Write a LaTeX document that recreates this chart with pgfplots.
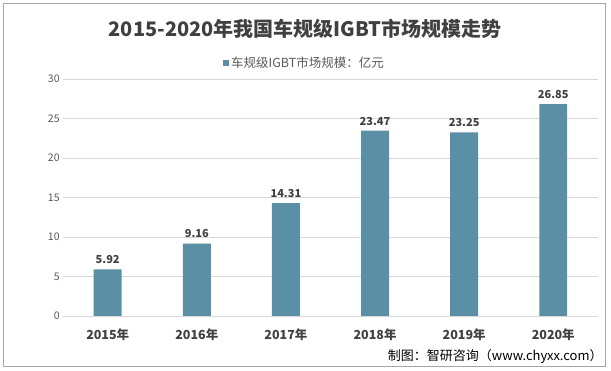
\documentclass[border=0pt]{standalone}
\usepackage{pgfplots}
\pgfplotsset{compat=1.18}
\usepackage{fontspec}
\setmainfont{Noto Sans CJK SC}
\definecolor{barc}{RGB}{91,143,166}
\definecolor{txt}{RGB}{64,64,64}
\definecolor{tick}{RGB}{89,89,89}
\definecolor{gridc}{RGB}{217,217,217}
\begin{document}
\begin{tikzpicture}[x=1pt,y=1pt]
\draw[fill=white,draw=white] (0,0) rectangle (611,370);
\draw[color=black!35,line width=0.8pt] (3,4) rectangle (606,367);
\node[font=\fontsize{20}{24}\selectfont\bfseries,text=txt,anchor=center,inner sep=0pt] at (305,341) {2015-2020年我国车规级IGBT市场规模走势};
\fill[barc] (223,304) rectangle (229,310);
\node[font=\fontsize{12.5}{14}\selectfont,text=tick,anchor=west,inner sep=0pt] at (231,307) {车规级IGBT市场规模：亿元};
\node[font=\fontsize{13}{15}\selectfont,text=black,anchor=east,inner sep=0pt] at (603,14) {制图：智研咨询（www.chyxx.com）};
\begin{axis}[
  at={(63pt,54pt)}, anchor=south west,
  scale only axis, width=535pt, height=237pt,
  xmin=-0.5, xmax=5.5, ymin=0, ymax=30,
  ytick={0,5,...,30},
  xtick=data,
  xticklabels={2015年,2016年,2017年,2018年,2019年,2020年},
  axis line style={draw=none},
  axis x line*=bottom,
  x axis line style={draw=gridc},
  ymajorgrids, grid style={gridc, line width=0.6pt},
  major tick length=0pt,
  tick style={draw=none},
  yticklabel style={font=\fontsize{10.5}{12}\selectfont, text=tick},
  xticklabel style={font=\fontsize{12.5}{14}\selectfont\bfseries, text=txt, yshift=-9pt},
  /pgf/number format/assume math mode=true,
  ybar, bar width=28pt,
  nodes near coords,
  nodes near coords style={font=\fontsize{11}{13}\selectfont\bfseries, text=txt, yshift=2pt, /pgf/number format/.cd, fixed, fixed zerofill, precision=2, assume math mode=true},
  clip=false,
]
\addplot[fill=barc, draw=none] coordinates {(0,5.92) (1,9.16) (2,14.31) (3,23.47) (4,23.25) (5,26.85)};
\end{axis}
\end{tikzpicture}
\end{document}
